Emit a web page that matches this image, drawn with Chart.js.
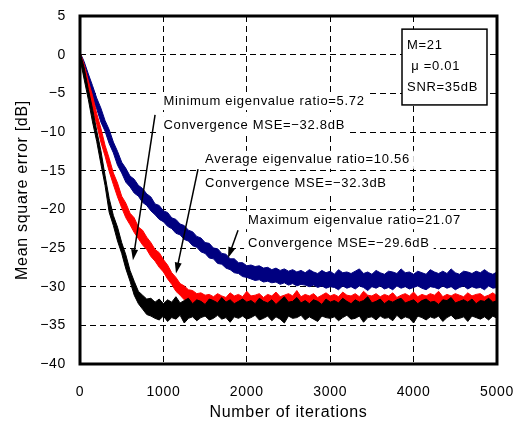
<!DOCTYPE html>
<html>
<head>
<meta charset="utf-8">
<script src="https://cdn.jsdelivr.net/npm/chart.js@4.4.1/dist/chart.umd.min.js"></script>
<style>
html, body { margin: 0; padding: 0; background: #fff; }
#wrap { width: 519px; height: 428px; }
</style>
</head>
<body>
<div id="wrap"><canvas id="myChart" width="519" height="428"></canvas></div>
<script>
// iterations (every 50 samples)
var iterations = [0,50,100,150,200,250,300,350,400,450,500,550,600,650,700,750,800,850,900,950,
	1000,1050,1100,1150,1200,1250,1300,1350,1400,1450,1500,1550,1600,1650,1700,1750,1800,1850,1900,1950,
	2000,2050,2100,2150,2200,2250,2300,2350,2400,2450,2500,2550,2600,2650,2700,2750,2800,2850,2900,2950,
	3000,3050,3100,3150,3200,3250,3300,3350,3400,3450,3500,3550,3600,3650,3700,3750,3800,3850,3900,3950,
	4000,4050,4100,4150,4200,4250,4300,4350,4400,4450,4500,4550,4600,4650,4700,4750,4800,4850,4900,4950,5000];

// minimum eigenvalue ratio (black) - upper / lower edge of the noisy curve
var minUpper = [0.3,-1.7,-4.5,-7.0,-9.8,-12.4,-15.6,-18.6,-20.8,-22.3,-24.3,-25.9,-27.9,-29.3,-30.6,-31.1,-31.6,-31.5,-32.0,
	-31.6,-32.2,-31.7,-32.0,-31.3,-32.1,-31.8,-31.5,-32.2,-31.7,-31.9,-32.3,-31.6,-31.8,-32.1,-31.4,-32.0,-31.7,-32.2,-31.9,-31.6,-32.0,
	-31.8,-32.2,-31.5,-31.9,-32.1,-31.7,-32.3,-31.8,-31.3,-32.0,
	-31.9,-31.4,-32.1,-31.8,-32.2,-31.7,-31.9,-32.3,-31.6,-32.0,
	-31.8,-32.1,-31.5,-31.9,-32.2,-31.7,-32.0,-31.8,-31.3,-32.1,
	-31.9,-31.6,-32.2,-31.8,-32.0,-31.7,-31.5,-32.1,-31.9,-31.7,
	-32.2,-31.8,-31.6,-32.0,-31.9,-32.3,-31.7,-31.8,-31.4,-32.1,
	-31.9,-31.7,-32.0,-31.6,-32.2,-31.8,-31.9,-31.5,-32.0,-31.8];
var minLower = [-0.5,-3.2,-5.8,-8.7,-11.2,-14.1,-16.9,-20.4,-22.1,-24.1,-25.7,-27.7,-29.3,-31.1,-32.2,-32.9,-33.6,-33.8,-34.1,
	-34.3,-33.8,-34.5,-34.0,-34.2,-33.7,-34.7,-34.1,-33.9,-34.4,-34.0,-33.8,-34.3,-34.1,-33.7,-34.2,-34.0,-34.6,-33.9,-34.1,-33.8,-34.2,
	-34.0,-33.7,-34.3,-34.1,-33.8,-34.4,-33.9,-34.2,-34.7,-33.8,
	-34.1,-34.0,-33.7,-34.3,-33.9,-34.2,-34.5,-33.8,-34.0,-34.1,
	-33.9,-34.4,-34.0,-33.7,-34.2,-34.1,-33.8,-34.6,-34.0,-33.9,
	-34.3,-33.8,-34.1,-34.0,-34.4,-33.7,-34.2,-33.9,-34.1,-34.7,
	-33.8,-34.0,-34.3,-33.9,-34.1,-33.8,-34.5,-34.0,-33.7,-34.2,
	-34.1,-33.9,-34.5,-33.8,-34.0,-34.2,-33.9,-34.3,-33.8,-34.1];

// average eigenvalue ratio (red)
var avgUpper = [0.3,-1.3,-3.4,-5.3,-7.6,-9.5,-11.7,-13.4,-15.3,-16.6,-18.3,-19.2,-20.5,-21.1,-22.3,-22.7,-23.6,-24.3,-25.2,-25.6,
	-26.5,-27.2,-28.2,-28.8,-29.6,-29.9,-30.4,-30.5,-30.9,-30.8,-31.1,
	-31.0,-31.3,-30.9,-31.2,-31.4,-30.8,-31.2,-31.0,-31.3,-30.6,
	-31.2,-31.1,-30.9,-31.4,-31.0,-31.2,-30.7,-31.3,-31.1,-30.9,
	-31.2,-30.5,-31.3,-31.0,-31.2,-30.9,-31.4,-31.1,-30.8,-31.2,
	-31.0,-31.3,-30.7,-31.1,-31.2,-30.9,-31.3,-30.6,-31.1,-31.2,
	-30.9,-31.3,-31.0,-31.2,-30.8,-31.4,-31.1,-30.9,-31.2,-30.7,
	-31.3,-31.0,-31.2,-30.9,-31.1,-30.6,-31.3,-31.0,-31.2,-30.9,
	-31.1,-31.3,-30.8,-31.2,-31.0,-30.9,-31.3,-31.1,-30.8,-31.2];
var avgLower = [-0.5,-2.7,-4.8,-7.0,-9.0,-11.3,-13.1,-15.1,-16.8,-18.4,-19.8,-21.1,-22.0,-23.0,-23.8,-24.6,-25.2,-26.1,-26.7,-27.5,
	-28.1,-29.0,-29.7,-30.6,-31.1,-31.7,-32.0,-32.2,-32.4,-32.5,-32.6,
	-32.7,-32.5,-32.8,-32.6,-32.4,-32.7,-32.6,-32.8,-32.5,-32.7,
	-32.6,-32.4,-32.8,-32.5,-32.7,-32.6,-32.8,-32.5,-32.6,-32.7,
	-32.4,-32.6,-32.8,-32.5,-32.7,-32.6,-32.5,-32.8,-32.6,-32.7,
	-32.5,-32.6,-32.8,-32.4,-32.7,-32.6,-32.5,-32.7,-32.8,-32.6,
	-32.5,-32.7,-32.6,-32.4,-32.8,-32.6,-32.7,-32.5,-32.6,-32.8,
	-32.5,-32.7,-32.6,-32.4,-32.7,-32.8,-32.6,-32.5,-32.7,-32.6,
	-32.8,-32.5,-32.6,-32.7,-32.4,-32.6,-32.8,-32.5,-32.7,-32.6];

// maximum eigenvalue ratio (blue)
var maxUpper = [0.3,-0.9,-2.5,-4.0,-5.6,-6.9,-8.5,-9.7,-11.3,-12.5,
	-13.9,-14.7,-15.7,-16.1,-16.9,-17.3,-18.0,-18.4,-19.3,-19.5,
	-20.2,-20.4,-21.1,-21.3,-21.9,-22.1,-22.7,-22.9,-23.5,-23.7,
	-24.3,-24.4,-25.0,-25.1,-25.7,-25.8,-26.4,-26.4,-26.9,-26.9,
	-27.3,
	-27.2,-27.4,-27.3,-27.6,-27.5,-27.8,-27.6,-27.9,-27.7,-28.0,
	-27.8,-28.1,-27.9,-28.2,-27.8,-28.1,-28.3,-27.9,-28.2,-28.0,
	-28.4,-27.8,-28.2,-28.1,-28.3,-28.0,-27.7,-28.3,-28.1,-28.4,
	-27.9,-28.2,-28.4,-28.0,-28.1,-28.3,-27.7,-28.2,-28.1,-28.4,
	-28.0,-28.2,-28.4,-27.8,-28.1,-28.3,-28.0,-28.3,-27.7,-28.2,
	-28.4,-28.0,-28.1,-28.3,-28.0,-28.2,-27.8,-28.2,-28.4,-28.1];
var maxLower = [-0.5,-2.3,-3.9,-5.7,-7.0,-8.7,-9.9,-11.5,-12.7,-14.3,
	-15.3,-16.5,-17.1,-17.9,-18.3,-19.1,-19.5,-20.2,-20.7,-21.3,
	-21.6,-22.2,-22.5,-23.1,-23.3,-23.9,-24.1,-24.7,-24.9,-25.5,
	-25.7,-26.3,-26.4,-27.0,-27.1,-27.6,-27.8,-28.2,-28.3,-28.7,
	-28.8,
	-29.0,-29.2,-29.1,-29.4,-29.3,-29.5,-29.4,-29.7,-29.5,-29.8,
	-29.6,-29.9,-29.7,-29.8,-30.0,-29.8,-30.1,-29.9,-30.2,-30.0,
	-30.1,-30.4,-29.9,-30.2,-30.0,-30.3,-29.9,-30.1,-30.5,-30.0,
	-30.2,-29.9,-30.3,-30.1,-30.4,-29.9,-30.2,-30.0,-30.3,-30.1,
	-29.9,-30.2,-30.4,-30.0,-30.1,-30.3,-29.9,-30.2,-30.0,-30.4,
	-30.1,-29.9,-30.3,-30.0,-30.2,-30.1,-30.4,-29.9,-30.2,-30.1];

var yTicks = [-40,-35,-30,-25,-20,-15,-10,-5,0,5];
var xTicks = [0,1000,2000,3000,4000,5000];

var paramLines = ['M=21', ' \u03bc =0.01', 'SNR=35dB'];

// annotation: text lines at (iteration, dB), arrow from -> to
var notes = [
	{ x: 1000, y: [-6.0, -9.1], text: ['Minimum eigenvalue ratio=5.72', 'Convergence MSE=\u221232.8dB'], from: [900, -7.8], to: [635, -26.6] },
	{ x: 1500, y: [-13.6, -16.6], text: ['Average eigenvalue ratio=10.56', 'Convergence MSE=\u221232.3dB'], from: [1415, -14.8], to: [1151, -28.3] },
	{ x: 2015, y: [-21.4, -24.4], text: ['Maximum eigenvalue ratio=21.07', 'Convergence MSE=\u221229.6dB'], from: [1895, -22.7], to: [1775, -26.3] }
];

function toPoints(arr) {
	var pts = new Array();
	for (let i = 0; i < arr.length; i++) {
		pts.push({ x: iterations[i], y: arr[i] });
	}
	return pts;
}

function minus(v) {
	return String(v).replace('-', '\u2212');
}

var fontFamily = '"Liberation Sans", Arial, sans-serif';

var annotationPlugin = {
	id: 'annot',
	beforeDraw: function(chart) {
		chart.ctx.letterSpacing = '0.7px';
	},
	afterDraw: function(chart) {
		var ctx = chart.ctx;
		var xs = chart.scales.x, ys = chart.scales.y;
		var area = chart.chartArea;
		ctx.save();

		// notes with white background
		ctx.font = '13px ' + fontFamily;
		ctx.textBaseline = 'middle';
		ctx.textAlign = 'left';
		notes.forEach(function(n) {
			var px = xs.getPixelForValue(n.x);
			for (let i = 0; i < n.text.length; i++) {
				var py = ys.getPixelForValue(n.y[i]);
				var w = ctx.measureText(n.text[i]).width;
				ctx.fillStyle = '#fff';
				ctx.fillRect(px - 4, py - 9, w + 8, 18);
				ctx.fillStyle = '#000';
				ctx.fillText(n.text[i], px, py);
			}
			// arrow
			var x1 = xs.getPixelForValue(n.from[0]), y1 = ys.getPixelForValue(n.from[1]);
			var x2 = xs.getPixelForValue(n.to[0]), y2 = ys.getPixelForValue(n.to[1]);
			var ang = Math.atan2(y2 - y1, x2 - x1);
			ctx.strokeStyle = '#000';
			ctx.lineWidth = 1.5;
			ctx.beginPath();
			ctx.moveTo(x1, y1);
			ctx.lineTo(x2 - 8 * Math.cos(ang), y2 - 8 * Math.sin(ang));
			ctx.stroke();
			ctx.fillStyle = '#000';
			ctx.beginPath();
			ctx.moveTo(x2, y2);
			ctx.lineTo(x2 - 11 * Math.cos(ang) + 3.5 * Math.sin(ang), y2 - 11 * Math.sin(ang) - 3.5 * Math.cos(ang));
			ctx.lineTo(x2 - 11 * Math.cos(ang) - 3.5 * Math.sin(ang), y2 - 11 * Math.sin(ang) + 3.5 * Math.cos(ang));
			ctx.closePath();
			ctx.fill();
		});

		// parameter box
		var bx1 = xs.getPixelForValue(3861), bx2 = xs.getPixelForValue(4880);
		var by1 = ys.getPixelForValue(3.3), by2 = ys.getPixelForValue(-6.5);
		ctx.fillStyle = '#fff';
		ctx.fillRect(bx1, by1, bx2 - bx1, by2 - by1);
		ctx.strokeStyle = '#000';
		ctx.lineWidth = 1.5;
		ctx.strokeRect(bx1, by1, bx2 - bx1, by2 - by1);
		ctx.fillStyle = '#000';
		var lineY = [1.25, -1.5, -4.2];
		for (let i = 0; i < paramLines.length; i++) {
			ctx.fillText(paramLines[i], bx1 + 5, ys.getPixelForValue(lineY[i]));
		}

		// plot frame
		ctx.lineWidth = 3;
		ctx.strokeStyle = '#000';
		ctx.strokeRect(area.left, area.top, area.right - area.left, area.bottom - area.top);
		ctx.restore();
	}
};

function band(upper, color) {
	return {
		data: toPoints(upper),
		borderColor: color,
		backgroundColor: color,
		fill: '+1'
	};
}

function edge(lower, color) {
	return {
		data: toPoints(lower),
		borderColor: color,
		backgroundColor: color,
		fill: false
	};
}

var ctx = document.getElementById('myChart').getContext('2d');

var myChart = new Chart(ctx, {
	type: 'line',
	data: {
		datasets: [
			band(minUpper, '#000000'), edge(minLower, '#000000'),
			band(avgUpper, '#ff0000'), edge(avgLower, '#ff0000'),
			band(maxUpper, '#000080'), edge(maxLower, '#000080')
		]
	},
	options: {
		responsive: false,
		animation: false,
		events: [],
		layout: { padding: { left: 0, top: 16, right: 22, bottom: 0 } },
		elements: {
			point: { radius: 0 },
			line: { borderWidth: 1, tension: 0 }
		},
		plugins: {
			legend: { display: false },
			tooltip: { enabled: false }
		},
		scales: {
			x: {
				type: 'linear',
				min: 0,
				max: 5000,
				afterBuildTicks: function(scale) {
					scale.ticks = xTicks.map(function(v) { return { value: v }; });
				},
				afterFit: function(scale) {
					scale.height = 64;
					scale.paddingLeft = 0;
					scale.paddingRight = 0;
				},
				ticks: {
					padding: 20,
					color: '#000',
					maxRotation: 0,
					font: { family: fontFamily, size: 14 },
					callback: function(v) { return String(v); }
				},
				grid: {
					color: '#000',
					lineWidth: 1,
					drawTicks: false
				},
				border: { display: false, dash: [6, 4] },
				title: {
					display: true,
					text: 'Number of iterations',
					color: '#000',
					font: { family: fontFamily, size: 16 },
					padding: { top: 0, bottom: 6 }
				}
			},
			y: {
				min: -40,
				max: 5,
				afterBuildTicks: function(scale) {
					scale.ticks = yTicks.map(function(v) { return { value: v }; });
				},
				afterFit: function(scale) {
					scale.width = 80;
					scale.paddingTop = 0;
					scale.paddingBottom = 0;
				},
				ticks: {
					padding: 14,
					color: '#000',
					font: { family: fontFamily, size: 14 },
					callback: function(v) { return minus(v); }
				},
				grid: {
					color: '#000',
					lineWidth: 1,
					drawTicks: false
				},
				border: { display: false, dash: [6, 4] },
				title: {
					display: true,
					text: 'Mean square error [dB]',
					color: '#000',
					font: { family: fontFamily, size: 16 },
					padding: { top: 13, bottom: 0 }
				}
			}
		}
	},
	plugins: [annotationPlugin]
});
</script>
</body>
</html>
